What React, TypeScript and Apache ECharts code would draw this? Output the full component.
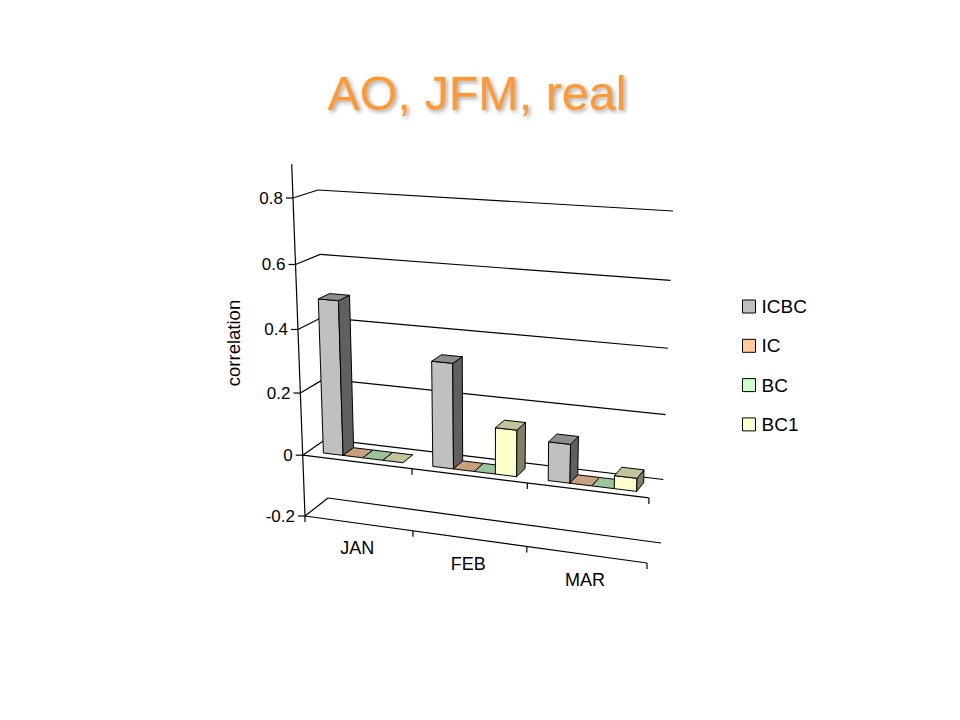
import React, { useEffect, useRef } from "react";
import * as echarts from "echarts";

const categories = ["JAN", "FEB", "MAR"];
const seriesNames = ["ICBC", "IC", "BC", "BC1"];
const icbcValues = [0.49, 0.33, 0.12];
const icValues = [0, 0, 0];
const bcValues = [0, 0, 0];
const bc1Values = [0, 0.145, 0.04];
const valueTicks = [-0.2, 0, 0.2, 0.4, 0.6, 0.8];
const seriesValues = [icbcValues, icValues, bcValues, bc1Values];

const faceColors = [
  { front: "#C0C0C0", top: "#8E8E8E", side: "#606060" },
  { front: "#FFCC99", top: "#C8A07C", side: "#80664C" },
  { front: "#CCFFCC", top: "#9CC49C", side: "#668066" },
  { front: "#FFFFCC", top: "#C4C49C", side: "#808066" },
];

// Hidden cartesian frame: 100 px per unit on both axes.
const GRID_W = 300;
const GRID_H = 110;
const V_MIN = -0.2;
const V_MAX = 0.9;
const CAT_COUNT = 3;

// Perspective box: [x, y] of its corners at value -0.2 (0) and value 0.8 (1).
const FL0 = [305, 516], FL1 = [293, 198];
const BL0 = [328, 498], BL1 = [318, 190];
const FR0 = [647, 563], FR1 = [657, 223];
const BR0 = [661, 543], BR1 = [673, 211];
const warp = (t: number, k: number) => (t * (1 + k)) / (1 + k * t);
const mix = (a: number[], b: number[], t: number) => [a[0] + (b[0] - a[0]) * t, a[1] + (b[1] - a[1]) * t];

function project(pt: number[], w: number) {
  const u = warp(pt[0] / GRID_W, -0.077);
  const s = warp((GRID_H - pt[1]) / 100, -0.054);
  const front = mix(mix(FL0, FL1, s), mix(FR0, FR1, s), u);
  const back = mix(mix(BL0, BL1, s), mix(BR0, BR1, s), u);
  return mix(front, back, w);
}

const DEPTH_FRONT = 0.25;
const DEPTH_BACK = 0.72;
const GROUP_START = 0.14;
const BAR_SPAN = 0.183;
const LINE = { stroke: "#000", lineWidth: 1.2, fill: "none" };
const FONT = "'Liberation Sans', Arial, sans-serif";

function seg(a: number[], b: number[]) {
  return { type: "line", shape: { x1: a[0], y1: a[1], x2: b[0], y2: b[1] }, style: LINE };
}

function renderFrame(_: any, api: any) {
  const children: any[] = [];
  const at = (c: number, v: number, w: number) => project(api.coord([c, v]), w);
  children.push(seg(at(0, V_MAX, 0), at(0, V_MIN, 0)));
  valueTicks.forEach((v) => {
    const p = at(0, v, 0);
    children.push(seg([p[0] - 7, p[1]], [p[0], p[1]]));
    children.push(seg(p, at(0, v, 1)));
    children.push(seg(at(0, v, 1), at(CAT_COUNT, v, 1)));
    children.push({
      type: "text",
      style: {
        x: p[0] - 10, y: p[1], text: String(v), align: "right", verticalAlign: "middle",
        fontFamily: FONT, fontSize: 17, fill: "#000",
      },
    });
    if (v <= 0) {
      children.push(seg(p, at(CAT_COUNT, v, 0)));
      for (let c = v === 0 ? 1 : 0; c <= CAT_COUNT; c++) {
        const q = at(c, v, 0);
        children.push(seg(q, [q[0], q[1] + 6]));
      }
    }
  });
  categories.forEach((name, i) => {
    const q = at(i + 0.5, V_MIN, 0);
    children.push({
      type: "text",
      style: {
        x: q[0] - 1, y: q[1] + 25, text: name, align: "center", verticalAlign: "middle",
        fontFamily: FONT, fontSize: 18, fill: "#000",
      },
    });
  });
  children.push({
    type: "text",
    x: 233,
    y: 343,
    rotation: Math.PI / 2,
    style: {
      x: 0, y: 0, text: "correlation", align: "center", verticalAlign: "middle",
      fontFamily: FONT, fontSize: 18.5, fill: "#000",
    },
  });
  return { type: "group", children };
}

function makeBarRenderer(index: number) {
  return (_: any, api: any) => {
    const cat = api.value(0);
    const val = api.value(1);
    const left = cat + GROUP_START + index * BAR_SPAN;
    const right = left + BAR_SPAN;
    const c = faceColors[index];
    const at = (x: number, v: number, w: number) => project(api.coord([x, v]), w);
    const poly = (points: number[][], fill: string) => ({
      type: "polygon",
      shape: { points },
      style: { fill, stroke: "#000", lineWidth: 1, lineJoin: "round" },
    });
    const children: any[] = [];
    if (val !== 0) {
      children.push(poly([at(left, 0, DEPTH_FRONT), at(right, 0, DEPTH_FRONT), at(right, val, DEPTH_FRONT), at(left, val, DEPTH_FRONT)], c.front));
      children.push(poly([at(right, 0, DEPTH_FRONT), at(right, 0, DEPTH_BACK), at(right, val, DEPTH_BACK), at(right, val, DEPTH_FRONT)], c.side));
    }
    children.push(poly([at(left, val, DEPTH_FRONT), at(right, val, DEPTH_FRONT), at(right, val, DEPTH_BACK), at(left, val, DEPTH_BACK)], c.top));
    return { type: "group", children };
  };
}

export default function App() {
  const ref = useRef<HTMLDivElement>(null);
  useEffect(() => {
    const chart = echarts.init(ref.current!, null, { renderer: "svg" });
    chart.setOption({
      animation: false,
      backgroundColor: "#fff",
      title: {
        text: "AO, JFM, real",
        left: 472,
        top: 88,
        textAlign: "center",
        textVerticalAlign: "middle",
        textStyle: {
          fontFamily: FONT, fontSize: 48.5, fontWeight: "normal", color: "#FF9933",
          textShadowColor: "rgba(90,90,90,0.55)", textShadowBlur: 4, textShadowOffsetX: 2, textShadowOffsetY: 2,
        },
      },
      legend: {
        orient: "vertical",
        left: 737,
        top: 292,
        itemWidth: 13,
        itemHeight: 13,
        itemGap: 20.3,
        selectedMode: false,
        icon: "rect",
        textStyle: { fontFamily: FONT, fontSize: 19, color: "#000", padding: [0, 0, 0, 1] },
        data: seriesNames.map((name, i) => ({
          name,
          itemStyle: { color: faceColors[i].front, borderColor: "#000", borderWidth: 1 },
        })),
      },
      grid: { left: 0, top: 0, width: GRID_W, height: GRID_H },
      xAxis: { type: "value", min: 0, max: CAT_COUNT, show: false },
      yAxis: { type: "value", min: V_MIN, max: V_MAX, show: false },
      series: [
        {
          type: "custom",
          name: "frame",
          silent: true,
          renderItem: renderFrame,
          data: [[0, 0]],
          encode: { x: 0, y: 1 },
        },
        ...seriesNames.map((name, i) => ({
          type: "custom",
          name,
          silent: true,
          itemStyle: { color: faceColors[i].front },
          renderItem: makeBarRenderer(i),
          data: categories.map((_, c) => [c, seriesValues[i][c]]),
          encode: { x: 0, y: 1 },
        })),
      ],
    });
    return () => chart.dispose();
  }, []);
  return <div ref={ref} style={{ position: "absolute", left: 0, top: 0, width: 960, height: 720 }} />;
}
